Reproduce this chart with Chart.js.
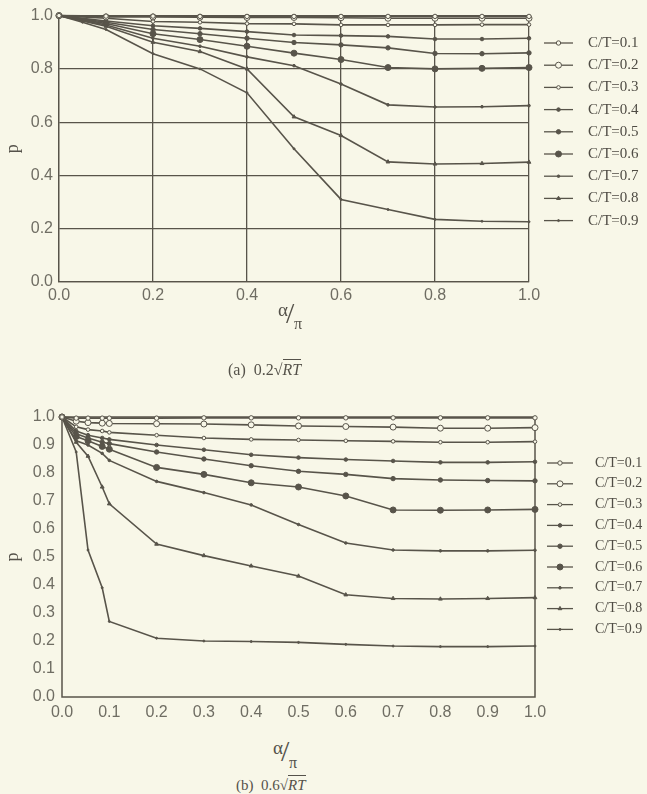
<!DOCTYPE html>
<html>
<head>
<meta charset="utf-8">
<script src="https://cdn.jsdelivr.net/npm/chart.js@4.4.1/dist/chart.umd.min.js"></script>
<style>
  body { margin: 0; background: #f8f7e8; width: 647px; height: 794px; position: relative; overflow: hidden; }
  canvas { position: absolute; left: 0; }
  .t { position: absolute; font-family: "Liberation Serif", "DejaVu Serif", serif; color: #55524a; white-space: nowrap; line-height: 1; }
  .ov { border-top: 1px solid #55524a; font-style: italic; padding-top: 1px; }
</style>
</head>
<body>
<canvas id="chartA" width="647" height="320" style="top:0"></canvas>
<canvas id="chartB" width="647" height="330" style="top:400px"></canvas>

<!-- axis titles α/π and captions -->
<div class="t" style="left:278px;top:300px;font-size:19px">α</div>
<div class="t" style="left:286px;top:298px;font-size:30px">/</div>
<div class="t" style="left:294px;top:316px;font-size:16px">π</div>
<div class="t" style="left:228px;top:362px;font-size:16px">(a)&nbsp;&nbsp;0.2√<span class="ov">RT</span></div>

<div class="t" style="left:273px;top:738px;font-size:19px">α</div>
<div class="t" style="left:281px;top:736px;font-size:30px">/</div>
<div class="t" style="left:289px;top:755px;font-size:16px">π</div>
<div class="t" style="left:236px;top:778px;font-size:15px">(b)&nbsp;&nbsp;0.6√<span class="ov">RT</span></div>

<script>
// ---- data ----
const labelsCT = ['C/T=0.1', 'C/T=0.2', 'C/T=0.3', 'C/T=0.4', 'C/T=0.5', 'C/T=0.6', 'C/T=0.7', 'C/T=0.8', 'C/T=0.9'];

// (a) 0.2√RT
const alphaA = [0, 0.05, 0.1, 0.2, 0.3, 0.4, 0.5, 0.6, 0.7, 0.8, 0.9, 1.0];
const pA1 = [1.0, null, 0.998, 0.998, 0.997, 0.997, 0.997, 0.997, 0.997, 0.997, 0.997, 0.997];
const pA2 = [1.0, null, 0.995, 0.995, 0.994, 0.993, 0.993, 0.992, 0.99, 0.99, 0.99, 0.99];
const pA3 = [1.0, null, 0.99, 0.978, 0.975, 0.97, 0.969, 0.965, 0.965, 0.965, 0.966, 0.966];
const pA4 = [1.0, null, 0.98, 0.962, 0.952, 0.94, 0.927, 0.925, 0.922, 0.912, 0.912, 0.915];
const pA5 = [1.0, null, 0.975, 0.948, 0.932, 0.915, 0.899, 0.89, 0.879, 0.858, 0.857, 0.86];
const pA6 = [1.0, null, 0.97, 0.932, 0.91, 0.885, 0.859, 0.835, 0.805, 0.80, 0.802, 0.805];
const pA7 = [1.0, null, 0.965, 0.915, 0.885, 0.845, 0.812, 0.743, 0.665, 0.657, 0.658, 0.662];
const pA8 = [1.0, null, 0.96, 0.90, 0.865, 0.80, 0.62, 0.55, 0.451, 0.443, 0.445, 0.45];
const pA9 = [1.0, 0.975, 0.948, 0.857, 0.80, 0.71, 0.50, 0.31, 0.272, 0.235, 0.228, 0.226];

// (b) 0.6√RT
const alphaB = [0, 0.03, 0.055, 0.085, 0.1, 0.2, 0.3, 0.4, 0.5, 0.6, 0.7, 0.8, 0.9, 1.0];
const pB1 = [1.0, 0.996, 0.996, 0.996, 0.996, 0.996, 0.997, 0.997, 0.997, 0.997, 0.997, 0.997, 0.997, 0.997];
const pB2 = [1.0, 0.985, 0.98, 0.978, 0.977, 0.976, 0.975, 0.972, 0.968, 0.966, 0.964, 0.96, 0.96, 0.962];
const pB3 = [1.0, 0.965, 0.955, 0.95, 0.945, 0.935, 0.925, 0.92, 0.918, 0.915, 0.913, 0.91, 0.91, 0.912];
const pB4 = [1.0, 0.95, 0.935, 0.925, 0.92, 0.90, 0.883, 0.865, 0.855, 0.848, 0.843, 0.838, 0.838, 0.84];
const pB5 = [1.0, 0.94, 0.925, 0.91, 0.905, 0.875, 0.85, 0.826, 0.806, 0.795, 0.78, 0.775, 0.773, 0.772];
const pB6 = [1.0, 0.93, 0.915, 0.895, 0.885, 0.82, 0.795, 0.765, 0.75, 0.718, 0.668, 0.667, 0.668, 0.67];
const pB7 = [1.0, 0.915, 0.90, 0.87, 0.845, 0.77, 0.73, 0.686, 0.616, 0.55, 0.525, 0.522, 0.522, 0.524];
const pB8 = [1.0, 0.91, 0.86, 0.75, 0.69, 0.546, 0.505, 0.468, 0.432, 0.365, 0.352, 0.35, 0.352, 0.355];
const pB9 = [1.0, 0.875, 0.525, 0.39, 0.27, 0.21, 0.20, 0.198, 0.195, 0.188, 0.182, 0.18, 0.18, 0.182];

const ticksA = [0, 0.2, 0.4, 0.6, 0.8, 1.0];
const ticksB = [0, 0.1, 0.2, 0.3, 0.4, 0.5, 0.6, 0.7, 0.8, 0.9, 1.0];

// ---- styles ----
const ink = '#58544a';
const paper = '#f8f7e8';
const tickInk = '#6f6d63';
// marker look for each C/T value
const marks = [
  { style: 'circle', r: 2.2, open: true },
  { style: 'circle', r: 3, open: true },
  { style: 'circle', r: 1.8, open: true },
  { style: 'circle', r: 1.8, open: false },
  { style: 'circle', r: 2.2, open: false },
  { style: 'circle', r: 3, open: false },
  { style: 'circle', r: 1.3, open: false },
  { style: 'triangle', r: 2.2, open: false },
  { style: 'circle', r: 1, open: false }
];

function makeSets(series) {
  return series.map((d, i) => ({
    label: labelsCT[i],
    data: d,
    borderColor: ink,
    borderWidth: 1.6,
    pointStyle: marks[i].style,
    pointRadius: marks[i].r,
    pointBorderWidth: 1,
    pointBorderColor: ink,
    pointBackgroundColor: marks[i].open ? paper : ink,
    tension: 0,
    spanGaps: true,
    clip: false
  }));
}

const sideLegend = {
  id: 'sideLegend',
  afterDraw(chart, args, o) {
    const ctx = chart.ctx;
    ctx.save();
    chart.data.datasets.forEach((ds, i) => {
      const y = o.top + i * o.step;
      ctx.strokeStyle = ink;
      ctx.lineWidth = 1.3;
      ctx.beginPath();
      ctx.moveTo(o.x, y);
      ctx.lineTo(o.x + o.len, y);
      ctx.stroke();
      ctx.fillStyle = ds.pointBackgroundColor;
      ctx.strokeStyle = ink;
      ctx.lineWidth = 1;
      Chart.helpers.drawPoint(ctx, { pointStyle: ds.pointStyle, radius: ds.pointRadius, borderWidth: 1, rotation: 0 }, o.x + o.len / 2, y);
      ctx.fillStyle = '#4f4c44';
      ctx.font = o.font;
      ctx.textBaseline = 'middle';
      ctx.fillText(ds.label, o.x + o.len + o.gap, y);
    });
    ctx.restore();
  }
};

const frame = {
  id: 'frame',
  beforeDatasetsDraw(chart, args, o) {
    if (!o.on) return;
    const a = chart.chartArea, ctx = chart.ctx;
    ctx.save();
    ctx.strokeStyle = ink;
    ctx.lineWidth = 1.5;
    ctx.strokeRect(a.left, a.top, a.right - a.left, a.bottom - a.top);
    ctx.restore();
  }
};

function axes(tickVals, yWidth, xHeight, grid, xPad, yPad) {
  const tickFont = { family: '"Liberation Sans", Arial, sans-serif', size: 16 };
  const common = {
    type: 'linear', min: 0, max: 1,
    afterBuildTicks: s => { s.ticks = tickVals.map(v => ({ value: v })); },
    grid: { display: grid, color: ink, lineWidth: 1.3, drawTicks: false },
    border: { display: grid, color: ink, width: 1.3 }
  };
  return {
    x: Object.assign({}, common, {
      ticks: { color: tickInk, font: tickFont, padding: xPad, maxRotation: 0, callback: v => v.toFixed(1) },
      afterFit: s => { s.height = xHeight; }
    }),
    y: Object.assign({}, common, {
      ticks: { color: tickInk, font: tickFont, padding: yPad, callback: v => v.toFixed(1) },
      title: { display: true, text: 'p', color: '#55524a', font: { family: '"Liberation Serif", serif', size: 18 }, padding: { top: 2, bottom: 0 } },
      afterFit: s => { s.width = yWidth; }
    })
  };
}

function build(id, alpha, series, tickVals, layoutPad, yWidth, xHeight, grid, legendOpts, xPad, yPad) {
  return new Chart(document.getElementById(id), {
    type: 'line',
    data: { labels: alpha, datasets: makeSets(series) },
    options: {
      responsive: false,
      animation: false,
      devicePixelRatio: 1,
      layout: { padding: layoutPad },
      scales: axes(tickVals, yWidth, xHeight, grid, xPad, yPad),
      plugins: {
        legend: { display: false },
        tooltip: { enabled: false },
        sideLegend: legendOpts,
        frame: { on: !grid }
      }
    },
    plugins: [sideLegend, frame]
  });
}

// numeric x axis: pair each value with its α
function toXY(alpha, arr) { return arr.map((v, i) => ({ x: alpha[i], y: v })); }

const chartA = build('chartA', alphaA,
  [pA1, pA2, pA3, pA4, pA5, pA6, pA7, pA8, pA9].map(a => toXY(alphaA, a)),
  ticksA, { left: 0, right: 118, top: 14, bottom: 0 }, 59, 320 - 282, true,
  { x: 544, len: 29, gap: 15, top: 43, step: 22.2, font: '15px "Liberation Serif", serif' }, 4, 6);

const chartB = build('chartB', alphaB,
  [pB1, pB2, pB3, pB4, pB5, pB6, pB7, pB8, pB9].map(a => toXY(alphaB, a)),
  ticksB, { left: 0, right: 112, top: 17, bottom: 0 }, 62, 330 - 297, false,
  { x: 547, len: 26, gap: 22, top: 63, step: 20.8, font: '14px "Liberation Serif", serif' }, 6, 7);
</script>
</body>
</html>
